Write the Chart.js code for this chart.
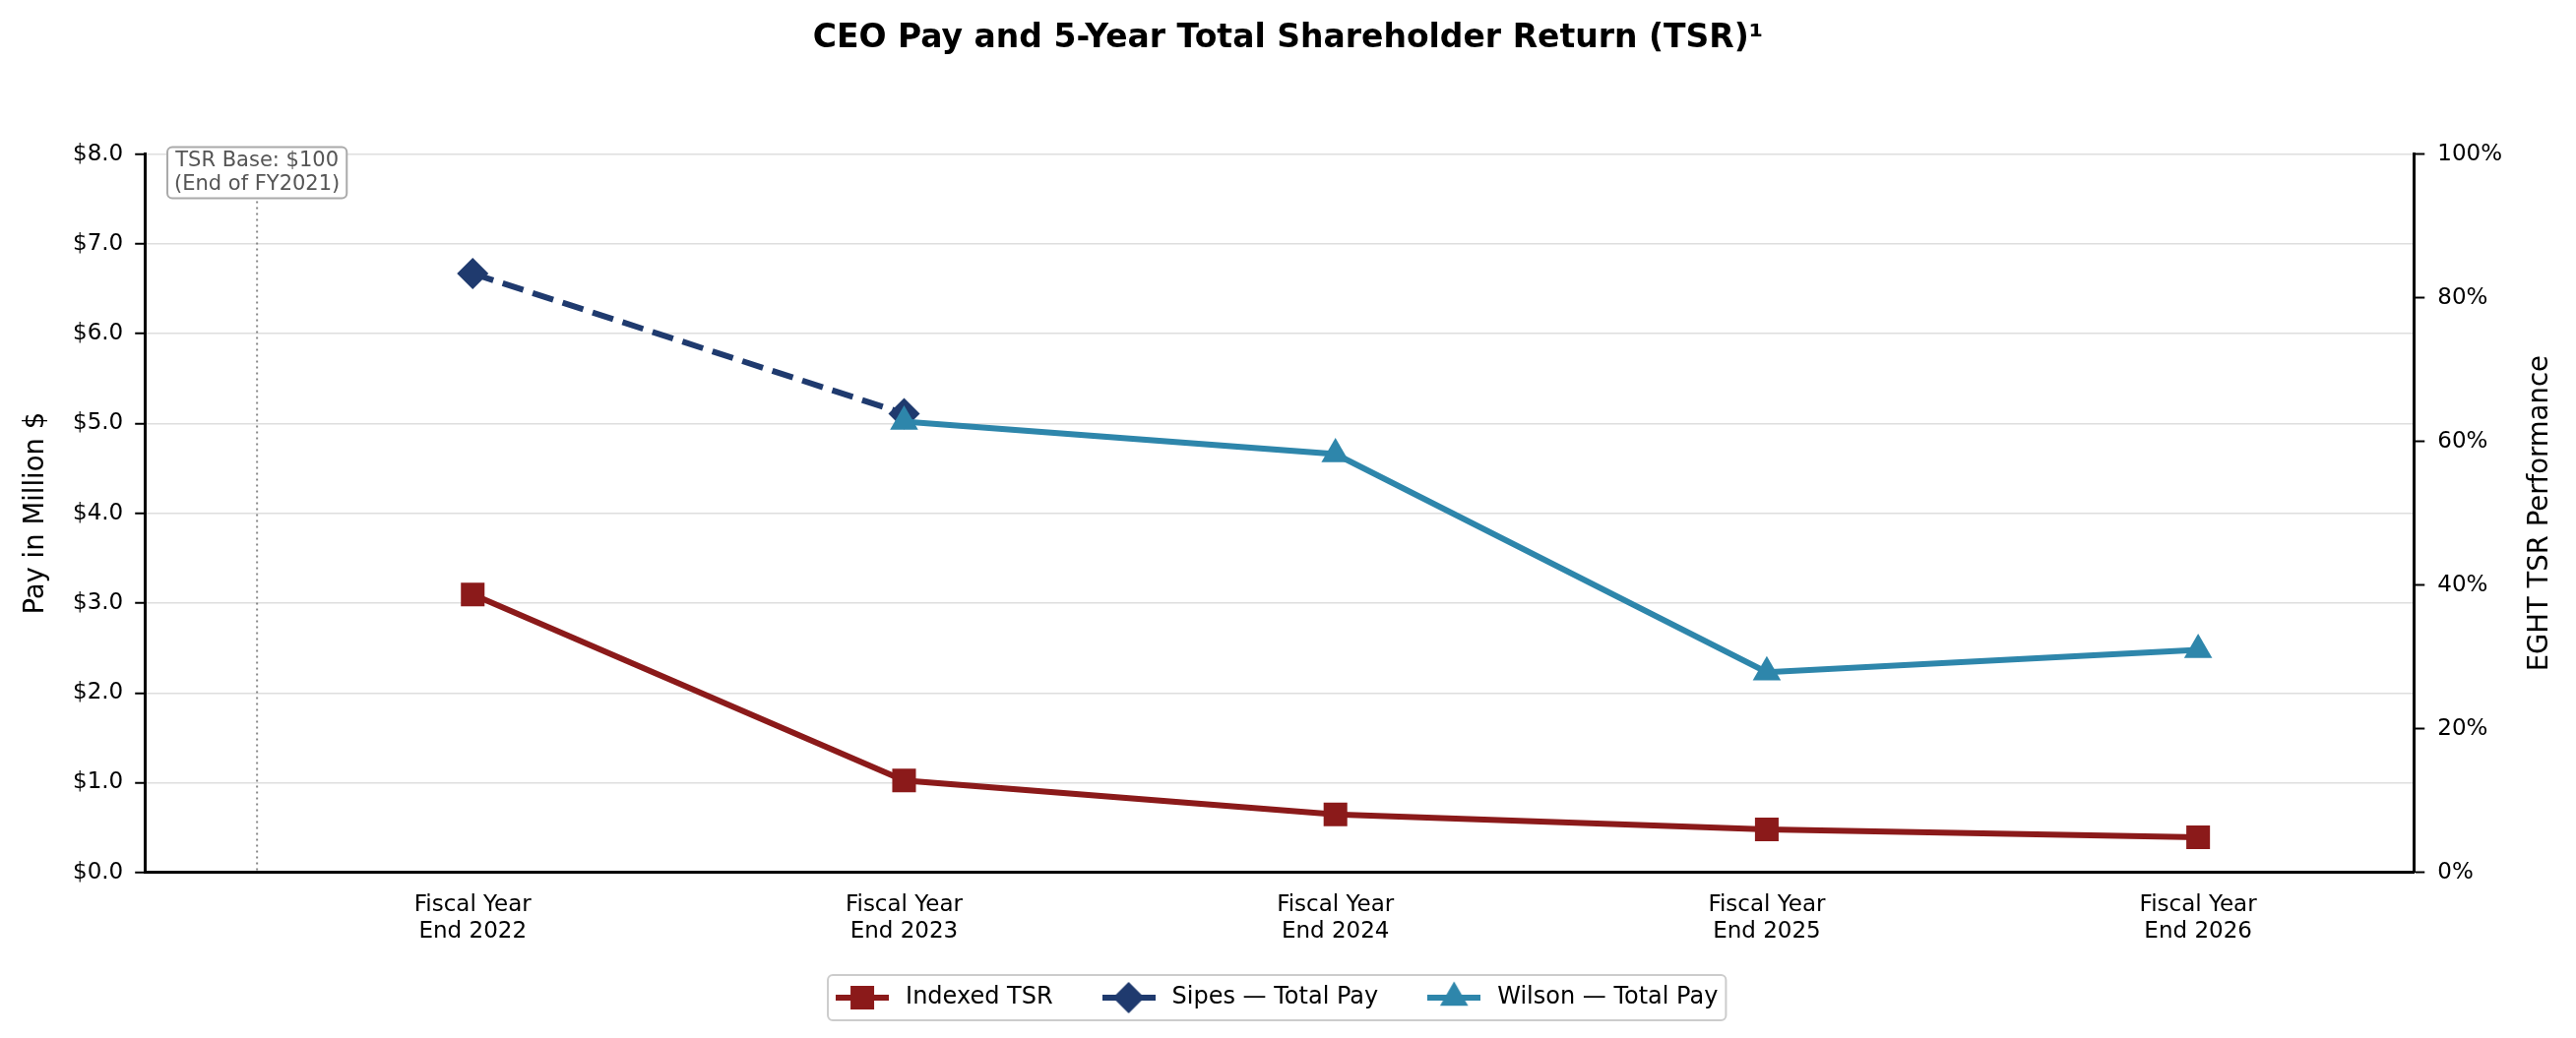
<!DOCTYPE html>
<html>
<head>
<meta charset="utf-8">
<script src="https://cdn.jsdelivr.net/npm/chart.js@4.4.1/dist/chart.umd.min.js"></script>
<style>
  html, body { margin: 0; padding: 0; background: #fff; }
  #wrap { width: 2617px; height: 1055px; }
</style>
</head>
<body>
<div id="wrap"><canvas id="payChart" width="2617" height="1055"></canvas></div>
<script>
// x axis categories (one point per fiscal year)
const fiscalYears = [
    ['Fiscal Year', 'End 2022'],
    ['Fiscal Year', 'End 2023'],
    ['Fiscal Year', 'End 2024'],
    ['Fiscal Year', 'End 2025'],
    ['Fiscal Year', 'End 2026']
];

// series values
const tsrPct = [38.7, 12.8, 8.1, 6.0, 4.9];          // right axis, %
const sipesPay = [6.67, 5.11, null, null, null];     // left axis, $M
const wilsonPay = [null, 5.02, 4.66, 2.23, 2.48];    // left axis, $M

// axis ranges / ticks
const payMax = 8;
const pctMax = 100;
const baseYearPos = -0.5;                            // "end of FY2021" marker
const tsrBaseNote = ['TSR Base: $100', '(End of FY2021)'];

const colors = {
    tsr: '#8B1A1A',
    sipes: '#1F3A6E',
    wilson: '#2E86AB'
};

Chart.defaults.font.family = "'DejaVu Sans', sans-serif";
Chart.defaults.color = '#000';

function toPoints(values) {
    return values.map((v, i) => ({ x: i, y: v }));
}

// draw a marker shape on a plain 2d context
function drawMarker(g, shape, x, y, r) {
    g.beginPath();
    if (shape === 'rect') {
        const s = r * Math.SQRT1_2;
        g.rect(x - s, y - s, 2 * s, 2 * s);
    } else if (shape === 'rectRot') {
        g.moveTo(x - r, y);
        g.lineTo(x, y - r);
        g.lineTo(x + r, y);
        g.lineTo(x, y + r);
        g.closePath();
    } else {
        for (let k = 0; k < 3; k++) {
            const a = k * 2 * Math.PI / 3;
            const px = x + Math.sin(a) * r;
            const py = y - Math.cos(a) * r;
            if (k === 0) g.moveTo(px, py); else g.lineTo(px, py);
        }
        g.closePath();
    }
    g.fill();
}

// legend handle: line with marker in the middle
function makeHandle(color, shape, r, dashed) {
    const c = document.createElement('canvas');
    c.width = 54;
    c.height = 36;
    const g = c.getContext('2d');
    g.strokeStyle = color;
    g.fillStyle = color;
    g.lineWidth = 6;
    if (dashed) g.setLineDash([22, 10]);
    g.beginPath();
    g.moveTo(0, 18);
    g.lineTo(54, 18);
    g.stroke();
    g.setLineDash([]);
    drawMarker(g, shape, 27, 18, r);
    return c;
}

const extrasPlugin = {
    id: 'extras',
    afterLayout: function(chart) {
        // nudge the legend a little left, onto the plot centre
        chart.legend.left -= 5;
        chart.legend.right -= 5;
    },
    beforeDatasetsDraw: function(chart) {
        const ctx = chart.ctx;
        const area = chart.chartArea;
        const x = chart.scales.x.getPixelForValue(baseYearPos);
        ctx.save();
        ctx.strokeStyle = '#888';
        ctx.lineWidth = 2;
        ctx.setLineDash([2, 4]);
        ctx.beginPath();
        ctx.moveTo(x, area.top);
        ctx.lineTo(x, area.bottom);
        ctx.stroke();
        ctx.restore();
    },
    afterDraw: function(chart) {
        const ctx = chart.ctx;
        const area = chart.chartArea;
        const x = chart.scales.x.getPixelForValue(baseYearPos);

        // base year note box
        ctx.save();
        ctx.font = '21px "DejaVu Sans"';
        const w = Math.max(...tsrBaseNote.map(t => ctx.measureText(t).width)) + 14;
        const h = 52;
        const top = area.top - 7;
        ctx.fillStyle = '#fff';
        ctx.strokeStyle = '#aaa';
        ctx.lineWidth = 2;
        ctx.beginPath();
        ctx.roundRect(x - w / 2, top, w, h, 5);
        ctx.fill();
        ctx.stroke();
        ctx.fillStyle = '#555';
        ctx.textAlign = 'center';
        ctx.textBaseline = 'middle';
        ctx.fillText(tsrBaseNote[0], x, top + 14);
        ctx.fillText(tsrBaseNote[1], x, top + 38);
        ctx.restore();

        // right axis title, reading bottom to top
        const y1 = chart.scales.y1;
        ctx.save();
        ctx.font = '27.5px "DejaVu Sans"';
        ctx.fillStyle = '#000';
        ctx.textAlign = 'center';
        ctx.textBaseline = 'middle';
        ctx.translate(y1.right - 16.5, (area.top + area.bottom) / 2);
        ctx.rotate(-Math.PI / 2);
        ctx.fillText('EGHT TSR Performance', 0, 0);
        ctx.restore();

        // frame round the legend
        const hb = chart.legend.legendHitBoxes;
        if (hb && hb.length) {
            const last = hb[hb.length - 1];
            const left = hb[0].left - 3;
            const right = last.left + last.width + 8;
            const cy = hb[0].top + hb[0].height / 2;
            ctx.save();
            ctx.strokeStyle = '#ccc';
            ctx.lineWidth = 2;
            ctx.beginPath();
            ctx.roundRect(left, cy - 23, right - left, 46, 5);
            ctx.stroke();
            ctx.restore();
        }
    }
};

const handles = [
    makeHandle(colors.tsr, 'rect', 17, false),
    makeHandle(colors.sipes, 'rectRot', 16, true),
    makeHandle(colors.wilson, 'triangle', 16.5, false)
];

const payChart = new Chart(document.getElementById('payChart').getContext('2d'), {
    type: 'line',
    data: {
        datasets: [{
            label: 'Indexed TSR',
            data: toPoints(tsrPct),
            yAxisID: 'y1',
            borderColor: colors.tsr,
            backgroundColor: colors.tsr,
            borderWidth: 6,
            pointStyle: 'rect',
            pointRadius: 17,
            pointBorderWidth: 0,
            order: 2
        }, {
            label: 'Sipes \u2014 Total Pay',
            data: toPoints(sipesPay),
            yAxisID: 'y',
            borderColor: colors.sipes,
            backgroundColor: colors.sipes,
            borderWidth: 6,
            borderDash: [22, 10],
            pointStyle: 'rectRot',
            pointRadius: 16,
            pointBorderWidth: 0,
            order: 1
        }, {
            label: 'Wilson \u2014 Total Pay',
            data: toPoints(wilsonPay),
            yAxisID: 'y',
            borderColor: colors.wilson,
            backgroundColor: colors.wilson,
            borderWidth: 6,
            pointStyle: 'triangle',
            pointRadius: 16.5,
            pointBorderWidth: 0,
            order: 0
        }]
    },
    options: {
        responsive: false,
        devicePixelRatio: 1,
        animation: false,
        layout: {
            padding: { left: 20, right: 20, top: 0, bottom: 19 }
        },
        elements: {
            line: { tension: 0 }
        },
        scales: {
            x: {
                type: 'linear',
                min: -0.76,
                max: 4.5,
                afterBuildTicks: function(scale) {
                    scale.ticks = fiscalYears.map((_, i) => ({ value: i }));
                },
                // trim the spare room under the labels
                afterFit: function(scale) {
                    scale.height -= 23;
                },
                ticks: {
                    font: { size: 23 },
                    padding: 19,
                    maxRotation: 0,
                    callback: function(value) {
                        return fiscalYears[value];
                    }
                },
                grid: { display: false, drawTicks: false },
                border: { display: true, color: '#000', width: 3 }
            },
            y: {
                position: 'left',
                min: 0,
                max: payMax,
                ticks: {
                    stepSize: 1,
                    font: { size: 23 },
                    padding: 12,
                    callback: function(value) {
                        return '$' + value.toFixed(1);
                    }
                },
                grid: {
                    color: '#dedede',
                    lineWidth: 1.5,
                    tickColor: '#000',
                    tickWidth: 2,
                    tickLength: 10
                },
                border: { display: true, color: '#000', width: 3 },
                title: {
                    display: true,
                    text: 'Pay in Million $',
                    font: { size: 27.5 },
                    padding: { top: 0, bottom: 9 }
                }
            },
            y1: {
                position: 'right',
                min: 0,
                max: pctMax,
                ticks: {
                    stepSize: 20,
                    font: { size: 23 },
                    padding: 13,
                    callback: function(value) {
                        return value + '%';
                    }
                },
                grid: {
                    drawOnChartArea: false,
                    tickColor: '#000',
                    tickWidth: 2,
                    tickLength: 11
                },
                border: { display: true, color: '#000', width: 3 },
                title: {
                    display: true,
                    text: 'EGHT TSR Performance',
                    color: 'rgba(0,0,0,0)',
                    font: { size: 27.5 },
                    padding: { top: 0, bottom: 9 }
                }
            }
        },
        plugins: {
            title: {
                display: true,
                text: 'CEO Pay and 5-Year Total Shareholder Return (TSR)\u00B9',
                font: { size: 33, weight: 'bold' },
                color: '#000',
                padding: { top: 20, bottom: 97 }
            },
            legend: {
                display: true,
                position: 'bottom',
                fullSize: false,
                labels: {
                    usePointStyle: true,
                    pointStyleWidth: 64,
                    padding: 45,
                    font: { size: 24 },
                    color: '#000',
                    generateLabels: function(chart) {
                        return chart.data.datasets.map((ds, i) => ({
                            text: ds.label,
                            pointStyle: handles[i],
                            fillStyle: ds.borderColor,
                            strokeStyle: ds.borderColor,
                            lineWidth: 0,
                            hidden: false,
                            datasetIndex: i
                        }));
                    }
                }
            },
            tooltip: { enabled: false }
        }
    },
    plugins: [extrasPlugin]
});
</script>
</body>
</html>
